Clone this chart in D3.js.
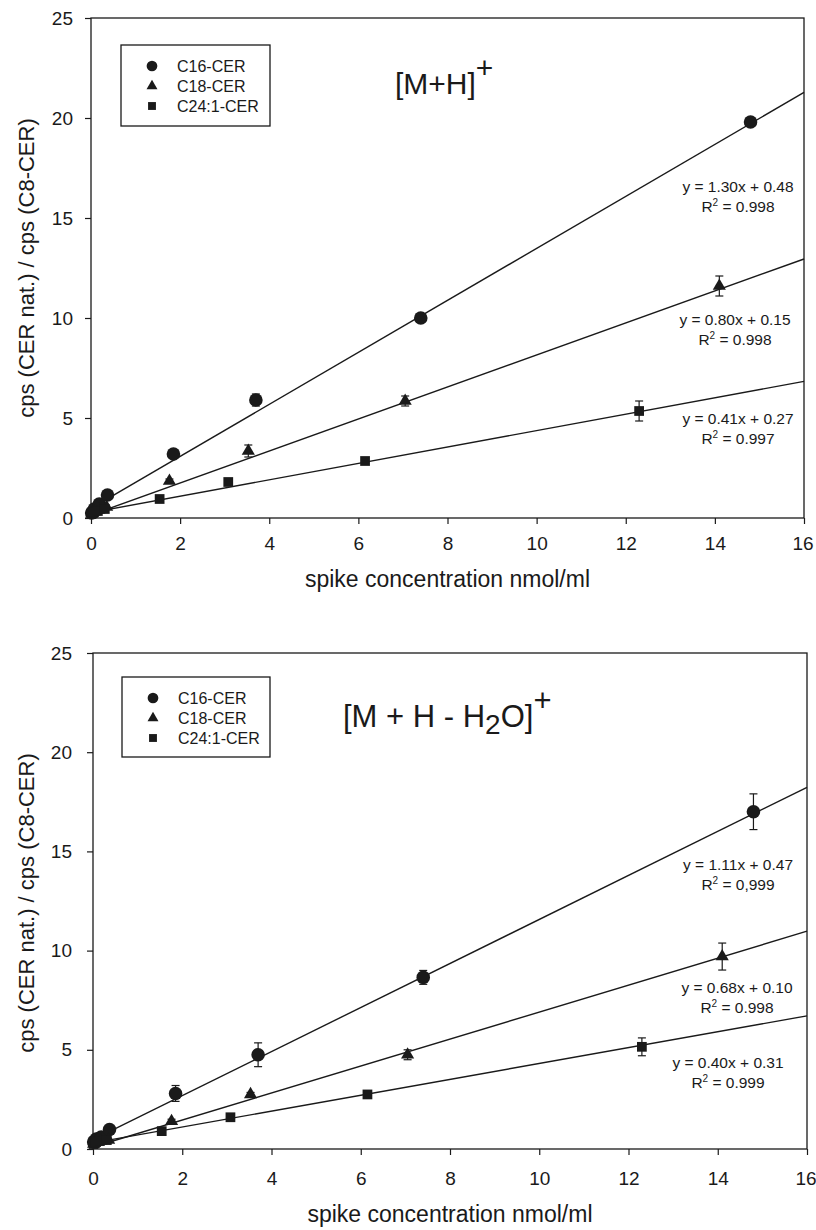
<!DOCTYPE html>
<html>
<head>
<meta charset="utf-8">
<script src="https://cdn.jsdelivr.net/npm/d3@7"></script>
<style>
  body { margin: 0; background: #fff; }
  text { font-family: "Liberation Sans", Arial, Helvetica, sans-serif; fill: #1a1a1a; }
</style>
</head>
<body>
<svg id="chart" width="816" height="1230"></svg>
<script>
/**
 * DATA
 * */
const xTicks = [0, 2, 4, 6, 8, 10, 12, 14, 16];
const yTicks = [0, 5, 10, 15, 20, 25];
const seriesNames = ["C16-CER", "C18-CER", "C24:1-CER"];

// spike concentrations (nmol/ml) for each ceramide
const concC16 = [0.015, 0.037, 0.074, 0.185, 0.37, 1.85, 3.7, 7.4, 14.8];
const concC18 = [0.014, 0.035, 0.07, 0.176, 0.35, 1.76, 3.53, 7.05, 14.1];
const concC24 = [0.012, 0.031, 0.062, 0.154, 0.31, 1.54, 3.08, 6.15, 12.3];

// [M+H]+ ratios and error bars
const mhC16 = [0.25, 0.3, 0.45, 0.7, 1.15, 3.2, 5.9, 10.0, 19.8];
const mhC18 = [0.2, 0.25, 0.3, 0.4, 0.55, 1.85, 3.35, 5.85, 11.6];
const mhC24 = [0.2, 0.25, 0.3, 0.35, 0.45, 0.95, 1.8, 2.85, 5.35];
const mhErrC16 = [0, 0, 0, 0, 0, 0.15, 0.3, 0.15, 0.2];
const mhErrC18 = [0, 0, 0, 0, 0, 0.1, 0.3, 0.25, 0.5];
const mhErrC24 = [0, 0, 0, 0, 0, 0.05, 0.1, 0.1, 0.5];
const mhSlopes = [1.30, 0.80, 0.41];
const mhIntercepts = [0.48, 0.15, 0.27];
const mhR2 = ["0.998", "0.998", "0.997"];

// [M+H-H2O]+ ratios and error bars
const mhwC16 = [0.35, 0.4, 0.5, 0.6, 0.98, 2.8, 4.75, 8.65, 17.0];
const mhwC18 = [0.25, 0.3, 0.35, 0.4, 0.45, 1.4, 2.75, 4.75, 9.7];
const mhwC24 = [0.25, 0.3, 0.35, 0.4, 0.45, 0.9, 1.6, 2.75, 5.15];
const mhwErrC16 = [0, 0, 0, 0, 0, 0.4, 0.6, 0.35, 0.9];
const mhwErrC18 = [0, 0, 0, 0, 0, 0.1, 0.1, 0.25, 0.68];
const mhwErrC24 = [0, 0, 0, 0, 0, 0.05, 0.1, 0.1, 0.45];
const mhwSlopes = [1.11, 0.68, 0.40];
const mhwIntercepts = [0.47, 0.10, 0.31];
const mhwR2 = ["0,999", "0.998", "0.999"];

const concs = [concC16, concC18, concC24];

/**
 * LAYOUT
 * */
const panels = [
  {
    ys: [mhC16, mhC18, mhC24], errs: [mhErrC16, mhErrC18, mhErrC24],
    slopes: mhSlopes, intercepts: mhIntercepts, r2: mhR2,
    left: 91, right: 804, top: 18, bottom: 518,
    xPad: 13, yPad: 12,
    legend: { x: 121, y: 45, w: 149, h: 81 },
    eqPos: [[738, 192], [735, 325], [738, 424]],
    title: "mh", titleX: 395, titleY: 94,
    yLabelY: 268, xLabelY: 587
  },
  {
    ys: [mhwC16, mhwC18, mhwC24], errs: [mhwErrC16, mhwErrC18, mhwErrC24],
    slopes: mhwSlopes, intercepts: mhwIntercepts, r2: mhwR2,
    left: 93, right: 807, top: 653, bottom: 1149,
    xPad: 17, yPad: 15,
    legend: { x: 122, y: 677, w: 148, h: 80 },
    eqPos: [[738, 870], [737, 993], [728, 1068]],
    title: "mhw", titleX: 343, titleY: 727,
    yLabelY: 903, xLabelY: 1222
  }
];

const svg = d3.select("#chart");
const ink = "#1a1a1a";
const symbols = [d3.symbolCircle, d3.symbolTriangle, d3.symbolSquare];
const symbolSizes = [145, 75, 95];
const legendSizes = [90, 52, 62];

panels.forEach(drawPanel);

function drawPanel(p) {
  const g = svg.append("g");

  const xScale = d3.scaleLinear().domain([0, 16]).range([p.left, p.right]);
  const yScale = d3.scaleLinear().domain([0, 25]).range([p.bottom, p.top]);

  // frame
  g.append("rect")
    .attr("x", p.left).attr("y", p.top)
    .attr("width", p.right - p.left).attr("height", p.bottom - p.top)
    .attr("fill", "none").attr("stroke", ink).attr("stroke-width", 1.3);

  // axes
  const xAxis = d3.axisBottom(xScale).tickValues(xTicks).tickSizeOuter(0).tickSize(6).tickPadding(p.xPad);
  const yAxis = d3.axisLeft(yScale).tickValues(yTicks).tickSizeOuter(0).tickSize(6).tickPadding(p.yPad);

  g.append("g")
    .attr("transform", `translate(0,${p.bottom})`)
    .call(xAxis)
    .call(a => a.select(".domain").remove())
    .call(a => a.selectAll("line").attr("stroke", ink).attr("stroke-width", 1.2))
    .call(a => a.selectAll("text").attr("font-size", 19).attr("fill", ink)
      // keep the last label inside the page edge
      .attr("dx", d => d === 16 ? -1.5 : 0));

  g.append("g")
    .attr("transform", `translate(${p.left},0)`)
    .call(yAxis)
    .call(a => a.select(".domain").remove())
    .call(a => a.selectAll("line").attr("stroke", ink).attr("stroke-width", 1.2))
    .call(a => a.selectAll("text").attr("font-size", 19).attr("fill", ink));

  // axis titles
  g.append("text")
    .attr("x", (p.left + p.right) / 2)
    .attr("y", p.xLabelY)
    .attr("text-anchor", "middle")
    .attr("font-size", 23)
    .text("spike concentration nmol/ml");

  g.append("text")
    .attr("transform", `translate(34,${p.yLabelY}) rotate(-90)`)
    .attr("text-anchor", "middle")
    .attr("font-size", 22)
    .text("cps (CER nat.) / cps (C8-CER)");

  // regression lines
  const line = d3.line().x(d => xScale(d[0])).y(d => yScale(d[1]));
  p.slopes.forEach((m, i) => {
    const b = p.intercepts[i];
    g.append("path")
      .attr("d", line([[0, b], [16, m * 16 + b]]))
      .attr("fill", "none")
      .attr("stroke", ink)
      .attr("stroke-width", 1.4);
  });

  // error bars + markers
  p.ys.forEach((ys, s) => {
    const pts = ys.map((y, i) => ({ x: concs[s][i], y: y, e: p.errs[s][i] }));
    const withErr = pts.filter(d => d.e > 0);

    const eb = g.append("g").attr("stroke", ink).attr("stroke-width", 1.2);
    eb.selectAll(".stem").data(withErr).join("line")
      .attr("x1", d => xScale(d.x)).attr("x2", d => xScale(d.x))
      .attr("y1", d => yScale(d.y - d.e)).attr("y2", d => yScale(d.y + d.e));
    eb.selectAll(".capTop").data(withErr).join("line")
      .attr("x1", d => xScale(d.x) - 4).attr("x2", d => xScale(d.x) + 4)
      .attr("y1", d => yScale(d.y + d.e)).attr("y2", d => yScale(d.y + d.e));
    eb.selectAll(".capBot").data(withErr).join("line")
      .attr("x1", d => xScale(d.x) - 4).attr("x2", d => xScale(d.x) + 4)
      .attr("y1", d => yScale(d.y - d.e)).attr("y2", d => yScale(d.y - d.e));

    g.selectAll(".dot" + s).data(pts).join("path")
      .attr("class", "dot" + s)
      .attr("d", d3.symbol().type(symbols[s]).size(symbolSizes[s]))
      .attr("transform", d => `translate(${xScale(d.x)},${yScale(d.y)})`)
      .attr("fill", ink);
  });

  // equations
  p.slopes.forEach((m, i) => {
    const [ex, ey] = p.eqPos[i];
    g.append("text")
      .attr("x", ex).attr("y", ey)
      .attr("text-anchor", "middle")
      .attr("font-size", 15.5)
      .text(`y = ${m.toFixed(2)}x + ${p.intercepts[i].toFixed(2)}`);
    const t = g.append("text")
      .attr("x", ex).attr("y", ey + 20)
      .attr("text-anchor", "middle")
      .attr("font-size", 15.5);
    t.append("tspan").text("R");
    t.append("tspan").attr("font-size", 10).attr("dy", -6).text("2");
    t.append("tspan").attr("dy", 6).text(" = " + p.r2[i]);
  });

  // legend
  const L = p.legend;
  g.append("rect")
    .attr("x", L.x).attr("y", L.y).attr("width", L.w).attr("height", L.h)
    .attr("fill", "#fff").attr("stroke", ink).attr("stroke-width", 1.3);
  seriesNames.forEach((name, i) => {
    const ry = L.y + 21 + i * 20;
    g.append("path")
      .attr("d", d3.symbol().type(symbols[i]).size(legendSizes[i]))
      .attr("transform", `translate(${L.x + 31},${ry})`)
      .attr("fill", ink);
    g.append("text")
      .attr("x", L.x + 56).attr("y", ry)
      .attr("dy", "0.35em")
      .attr("font-size", 16)
      .text(name);
  });

  // panel title
  const tt = g.append("text")
    .attr("x", p.titleX).attr("y", p.titleY);
  if (p.title === "mh") {
    tt.attr("font-size", 30);
    tt.append("tspan").text("[M+H]");
    tt.append("tspan").attr("dy", -16).text("+");
  } else {
    tt.attr("font-size", 31);
    tt.append("tspan").text("[M + H - H");
    tt.append("tspan").attr("font-size", 28).attr("dy", 7).text("2");
    tt.append("tspan").attr("dy", -7).text("O]");
    tt.append("tspan").attr("dy", -16).text("+");
  }
}
</script>
</body>
</html>
